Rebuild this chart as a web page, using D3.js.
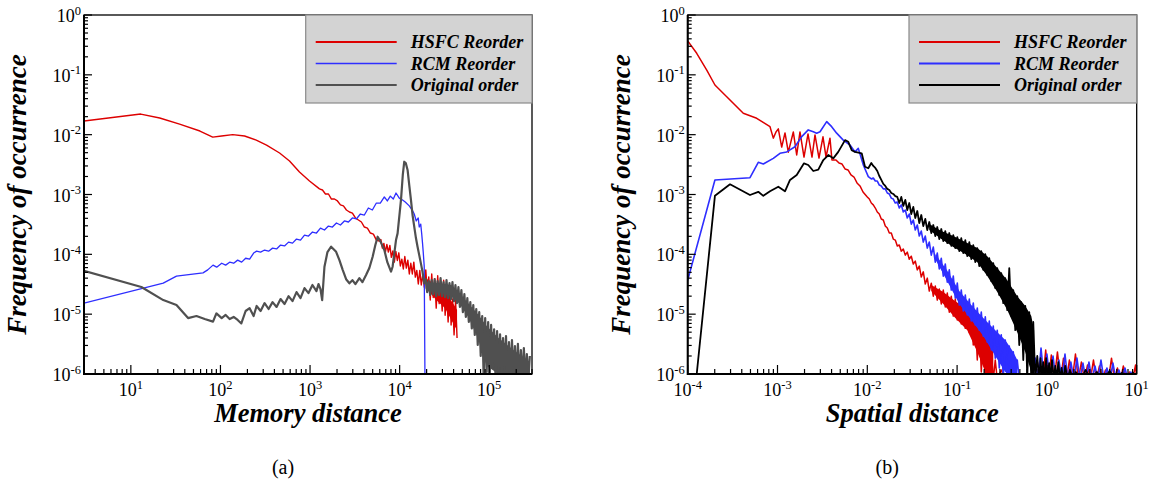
<!DOCTYPE html>
<html>
<head>
<meta charset="utf-8">
<script src="https://cdn.jsdelivr.net/npm/d3@7"></script>
<style>
  html, body { margin: 0; padding: 0; background: #fff; }
  svg { display: block; }
  text { font-family: "Liberation Serif", "Times New Roman", serif; fill: #000; }
</style>
</head>
<body>
<svg id="chart" width="1153" height="482"></svg>
<script>
// ---------- data: (a) memory distance ----------
const memHsfc = [
  [3,1.69e-2],[12.9,2.21e-2],[21,1.9e-2],[35,1.5e-2],[59,1.15e-2],[82,9.1e-3],[103,9.5e-3],[137,1.0e-2],[186,9.5e-3],[251,8.1e-3],[327,6.7e-3],[457,4.94e-3],[590,3.63e-3],[762,2.38e-3],[986,1.68e-3],
  [1274,1.24e-3],[1376,1.19e-3],[1486,1.02e-3],[1605,1.02e-3],[1733,8.4e-4],[1872,8.4e-4],[2022,7.8e-4],[2184,6.7e-4],[2358,6.45e-4],[2547,5.5e-4],[2751,5.1e-4],[2971,4.9e-4],[3209,4.05e-4],[3465,3.75e-4],[3743,3.47e-4],[4042,2.86e-4],[4366,2.75e-4],[4715,2.27e-4],[5092,2.18e-4],[5500,1.73e-4],
  [5940,1.66e-4],[6173,1.77e-4],[6415,1.27e-4],[6667,1.52e-4],[6928,1.09e-4],[7200,1.46e-4],[7482,1.09e-4],[7776,1.41e-4],[8081,8.9e-5],[8398,1.14e-4],[8727,7.4e-5],[9069,1.12e-4],[9425,7.9e-5],[9795,1.06e-4],[10180,6.4e-5],[10580,8.3e-5],[10990,5.7e-5],[11420,9.2e-5],[11870,5.9e-5],[12340,8.0e-5],[12820,4.7e-5],[13320,7.1e-5],[13850,4.7e-5],[14390,7.4e-5],[14960,4.17e-5],[15540,5.4e-5],[16150,3.19e-5],[16790,5.4e-5],[17440,3.07e-5],[18130,4.6e-5],[18840,2.84e-5],
  [19570,5.5e-5],[20340,2.4e-5],[21130,4.2e-5],[21960,1.72e-5],[22810,4.7e-5],[23700,1.9e-5],[24630,3.9e-5],[25590,1.26e-5],[26590,4.4e-5],[27620,1.5e-5],[28700,3.07e-5],[29820,1.13e-5],[30980,3.7e-5],[32190,9.6e-6],[33450,2.3e-5],[34750,7.4e-6],[36110,2.9e-5],[37520,6.6e-6],[38980,1.8e-5],[40500,4.5e-6],[42080,1.7e-5],[43720,4.0e-6]
];
// dense part of the HSFC curve: [distance, lower, upper]
const memHsfcBand = [
  [19570,2.73e-5,4.0e-5],[25590,1.72e-5,3.07e-5],[32190,1.26e-5,2.34e-5],[40500,6.6e-6,1.42e-5],[43720,5.4e-6,1.17e-5]
];
const memRcm = [
  [3,1.53e-5],[23,3.3e-5],[32.3,4.33e-5],[63.9,4.9e-5],[72.1,5.5e-5],[82.6,6.6e-5],[90.8,6.1e-5],[103.2,7.1e-5],[114.3,6.6e-5],[126.7,7.4e-5],[140.4,7.1e-5],[155.6,8.0e-5],[172.4,7.4e-5],[191,8.6e-5],[211.7,8.3e-5],[234.6,1.05e-4],[253.3,1.13e-4],[280.7,1.09e-4],[311,1.18e-4],[344.6,1.13e-4],[381.7,1.27e-4],[423,1.23e-4],[468.8,1.43e-4],[519.3,1.38e-4],[575.4,1.6e-4],[637.5,1.54e-4],[706.3,1.8e-4],[782.5,1.73e-4],[867,2.1e-4],[960.7,2.02e-4],[1064,2.36e-4],[1179,2.27e-4],[1307,2.75e-4],[1448,2.55e-4],[1604,2.97e-4],[1777,2.86e-4],[1970,3.34e-4],[2183,3.09e-4],[2418,3.61e-4],[2679,3.47e-4],[2969,4.05e-4],[3289,3.9e-4],[3644,4.72e-4],[4037,4.54e-4],[4474,5.94e-4],[4959,5.5e-4],[5495,7.2e-4],[6085,7.2e-4],[6745,9.1e-4],[7285,7.8e-4],[7867,9.4e-4],[8494,8.4e-4],[9104,1.06e-3],[9908,8.7e-4],[10780,8.1e-4],[11550,7.5e-4],[12800,6.45e-4],[13820,5.5e-4],[14550,4.72e-4],[15320,3.61e-4],[16130,4.05e-4],[16540,2.86e-4],[17190,3.2e-4],[17640,2.18e-4],[18000,1.54e-4],[18330,1.09e-4],[18800,6.35e-5],[19150,1e-6]
];
const memOrig = [
  [3,5.3e-5],[13.1,2.85e-5],[23,1.72e-5],[32.3,1.42e-5],[43.5,8.6e-6],[54,9.3e-6],[66.7,8.3e-6],[82.6,7.5e-6],[90.1,1.03e-5],[103.2,8.6e-6],[114.3,9.7e-6],[126.7,8.3e-6],[140.4,9.0e-6],[155.6,8.0e-6],[171,7.0e-6],[191,1.13e-5],[211.7,1.26e-5],[234.6,9.3e-6],[253.3,1.37e-5],[280.7,1.13e-5],[311,1.53e-5],[344.6,1.22e-5],[381.7,1.59e-5],[423,1.32e-5],[468.8,1.79e-5],[519.3,1.48e-5],[575.4,2.0e-5],[637.5,1.65e-5],[706.3,2.34e-5],[782.5,1.86e-5],[867,2.73e-5],[960.7,2.25e-5],[1064,3.07e-5],[1179,2.43e-5],[1242,3.19e-5],[1307,2.63e-5],[1365,1.72e-5],
  [1448,6.2e-5],[1564,1.09e-4],[1719,1.34e-4],[1954,1.1e-4],[2127,8.0e-5],[2314,5.5e-5],[2526,3.84e-5],[2749,3.28e-5],[2969,3.7e-5],[3206,3.19e-5],[3552,4.0e-5],[3837,3.43e-5],[4218,4.5e-5],[4590,5.9e-5],[4995,9.1e-5],[5355,1.43e-4],[5680,1.97e-4],[6085,1.66e-4],[6745,1.18e-4],[7285,7.4e-5],[8010,5.15e-5],[8343,6.2e-5],[9104,1.73e-4],[9484,2.24e-4],[10350,8.1e-4],[10840,2.12e-3],[11260,3.53e-3],[11700,3.36e-3],[12260,2.57e-3],[12800,1.44e-3],[13370,8.1e-4],[13930,4.54e-4],[14550,2.9e-4],[15200,1.87e-4],[15840,1.34e-4],[16540,9.7e-5],[17280,7.0e-5],[18000,5.1e-5],[18800,3.28e-5],
  [19530,3.84e-5],[20290,2.34e-5],[21080,3.56e-5],[21900,2.09e-5],[22750,3.7e-5],[23640,2.17e-5],[24560,3.84e-5],[25520,2.0e-5],[26510,3.56e-5],[27540,2.09e-5],[28620,4.0e-5],[29730,2.0e-5],[30890,3.43e-5],[32090,1.93e-5],[33340,3.7e-5],[34640,1.86e-5],[35990,3.3e-5],[37390,1.79e-5],[38850,3.43e-5],[40360,1.65e-5],[41930,3.07e-5],[43570,1.53e-5],[45270,2.84e-5],[47030,1.32e-5],[48860,2.53e-5],[50770,1.08e-5],[52750,2.17e-5],[54800,9.0e-6],[56940,1.86e-5],[59160,7.4e-6],[61460,1.59e-5],[63860,5.8e-6],[66350,1.42e-5],[68930,4.5e-6],[71620,1.22e-5],[74410,3.05e-6],[77310,1.08e-5],[80320,2.0e-6],[83450,9.3e-6],[86710,8e-7],[90090,8.6e-6],[93600,1.08e-6],[97250,7.4e-6],[101000,8e-7],[104900,6.6e-6],[109000,1.26e-6],[113300,5.6e-6],[117700,8e-7],[122300,5.2e-6],[127000,9.3e-7],[132000,4.6e-6],[137200,8e-7],[142500,4.0e-6],[148100,1.08e-6],[153800,4.3e-6],[159800,8e-7],[166100,3.4e-6],[172500,8e-7],[179300,3.7e-6],[186300,8.6e-7],[193500,2.94e-6],[201100,8e-7],[208900,3.2e-6],[217000,8e-7],[225500,2.52e-6],[234300,8e-7],[243400,2.72e-6],[252900,8e-7],[262800,2.16e-6],[273000,8e-7],[283700,2.0e-6]
];
const memOrigBand = [
  [19530,2.63e-5,3.43e-5],[27540,2.34e-5,3.3e-5],[37390,2.0e-5,3.07e-5],[47030,1.48e-5,2.17e-5],[59160,8.6e-6,1.48e-5],[74410,4.0e-6,1.01e-5],[93600,1.36e-6,6.35e-6],[127000,1.0e-6,4.0e-6],[186300,9.3e-7,2.52e-6],[283700,8.6e-7,1.58e-6]
];

// ---------- data: (b) spatial distance ----------
const spatHsfc = [
  [1.0e-4,0.37],[1.26e-4,0.229],[1.63e-4,0.12],[2.01e-4,0.0676],[2.72e-4,0.0431],[4.16e-4,0.0228],[5.87e-4,0.01876],[8.25e-4,0.01358],
  [8.98e-4,8.75e-3],[9.62e-4,1.11e-2],[1.021e-3,1.25e-2],[1.114e-3,6.2e-3],[1.212e-3,1.07e-2],[1.319e-3,5.1e-3],[1.50e-3,1.11e-2],[1.636e-3,4.57e-3],[1.78e-3,1.11e-2],[1.973e-3,4.23e-3],[2.186e-3,1.03e-2],[2.422e-3,4.23e-3],[2.616e-3,9.9e-3],[2.898e-3,4.07e-3],[3.21e-3,9.2e-3],[3.47e-3,4.23e-3],[3.84e-3,8.75e-3],[4.04e-3,3.77e-3],
  [4.48e-3,3.77e-3],[4.84e-3,3.36e-3],[5.23e-3,3.23e-3],[5.65e-3,2.67e-3],[6.10e-3,2.57e-3],[6.58e-3,2.12e-3],[7.11e-3,1.96e-3],[7.68e-3,1.56e-3],[8.29e-3,1.39e-3],[8.96e-3,1.10e-3],
  [0.01,9.1e-4],[0.01053,8.4e-4],[0.01108,7.2e-4],[0.01166,6.7e-4],[0.01228,5.94e-4],[0.01292,5.1e-4],[0.0136,4.72e-4],[0.01432,3.9e-4],[0.01507,3.75e-4],[0.01586,2.97e-4],[0.0167,2.75e-4],[0.01758,2.27e-4],[0.0185,2.27e-4],[0.01947,1.8e-4],[0.0205,1.73e-4],[0.02158,1.38e-4],[0.02271,1.43e-4],[0.02391,1.13e-4],[0.02516,1.23e-4],[0.02649,9.7e-5],[0.02788,1.09e-4],[0.02935,8.3e-5],[0.03089,9.3e-5],[0.03252,6.9e-5],[0.03423,7.7e-5],[0.03603,5.5e-5],[0.03793,6.35e-5],[0.03992,4.17e-5],[0.04202,5.1e-5],[0.04423,3.19e-5],[0.04656,4.0e-5],[0.04901,2.43e-5],[0.05159,3.3e-5],[0.05431,2.0e-5],[0.05716,2.95e-5],[0.06017,1.72e-5],[0.06334,2.63e-5],[0.06667,1.48e-5],[0.07018,2.53e-5],[0.07387,1.32e-5],[0.07776,2.25e-5],[0.08185,1.08e-5],[0.08616,2.0e-5],[0.09069,9.3e-6],[0.09546,1.79e-5],[0.1005,8.0e-6],[0.1058,1.65e-5],[0.1113,6.85e-6],[0.1172,1.53e-5],[0.1234,5.8e-6],[0.1298,1.32e-5],[0.1367,4.9e-6],[0.1439,1.08e-5],[0.1514,3.05e-6],[0.1594,8.6e-6],[0.1678,1.71e-6],[0.1766,7.1e-6],[0.1859,1.08e-6],[0.1957,5.0e-6],[0.206,8e-7],[0.2168,3.7e-6],[0.2282,8e-7],[0.2402,2.52e-6],[0.2528,8e-7],[0.2661,1.71e-6],[0.2801,8e-7],[0.3104,1.17e-6],[0.3439,8e-7],
  [0.77,8e-7],[0.83,1.58e-6],[0.9,8e-7],[0.97,2.52e-6],[1.04,8e-7],[1.12,2.08e-6],[1.21,8e-7],[1.31,2.34e-6],[1.42,8e-7],[1.53,1.84e-6],[1.65,8e-7],[1.78,1.71e-6],[1.92,8e-7],[2.08,2.16e-6],[2.24,8e-7],[2.42,1.58e-6],[2.62,8e-7],[2.83,1.41e-6],[3.05,8e-7],[3.3,1.71e-6],[3.56,8e-7],[3.85,1.36e-6],[4.16,8e-7],[4.49,1.17e-6],[4.85,8e-7],[5.24,1.84e-6],[5.66,8e-7],[6.1,1.26e-6],[6.6,8e-7],[7.1,1.36e-6],[7.7,8e-7],[8.3,1.08e-6],[9.0,8e-7],[9.7,1.41e-6],[10,8e-7]
];
const spatHsfcBand = [
  [0.05159,2.43e-5,3.07e-5],[0.07018,1.48e-5,2.34e-5],[0.09546,8.6e-6,1.65e-5],[0.1298,5.4e-6,1.22e-5],[0.1678,2.34e-6,8.0e-6],[0.206,1.08e-6,4.3e-6],[0.2528,8e-7,2.34e-6]
];
const spatRcm = [
  [1.0e-4,3.7e-5],[2.01e-4,1.75e-3],[4.94e-4,1.91e-3],[6.11e-4,3.45e-3],[6.95e-4,3.23e-3],[8.98e-4,4.02e-3],[1.066e-3,4.88e-3],[1.266e-3,5.15e-3],[1.566e-3,6.28e-3],[1.86e-3,9.28e-3],[2.2e-3,1.2e-2],[2.504e-3,1.12e-2],[2.73e-3,1.06e-2],[2.975e-3,1.12e-2],[3.53e-3,1.65e-2],[4.01e-3,1.36e-2],[4.56e-3,1.06e-2],[5.40e-3,8.1e-3],[6.42e-3,6.7e-3],[7.29e-3,5.15e-3],[7.94e-3,5.9e-3],[9.03e-3,3.11e-3],[1.026e-2,1.99e-3],
  [0.01108,1.82e-3],[0.01166,1.89e-3],[0.01228,1.68e-3],[0.01292,1.68e-3],[0.0136,1.44e-3],[0.01432,1.39e-3],[0.01507,1.24e-3],[0.01586,1.24e-3],[0.0167,1.06e-3],[0.01758,1.02e-3],[0.0185,8.7e-4],[0.01947,8.4e-4],[0.0205,7.2e-4],[0.02158,7.5e-4],[0.02271,5.94e-4],[0.02391,6.7e-4],[0.02516,5.1e-4],[0.02649,5.5e-4],[0.02788,4.05e-4],[0.02935,4.72e-4],[0.03089,3.2e-4],[0.03252,3.75e-4],[0.03423,2.55e-4],[0.03603,3.09e-4],[0.03793,2.02e-4],[0.03992,2.45e-4],[0.04202,1.6e-4],[0.04423,2.02e-4],[0.04656,1.27e-4],[0.04901,1.6e-4],[0.05159,9.7e-5],[0.05431,1.32e-4],[0.05716,7.4e-5],[0.06017,1.05e-4],[0.06334,5.7e-5],[0.06667,8.6e-5],[0.07018,4.33e-5],[0.07387,6.9e-5],[0.07776,3.43e-5],[0.08185,5.5e-5],[0.08616,2.53e-5],[0.09069,4.33e-5],[0.09546,1.86e-5],[0.1005,3.3e-5],[0.1058,1.42e-5],[0.1113,2.53e-5],[0.1172,1.13e-5],[0.1234,2.09e-5],[0.1298,9.7e-6],[0.1367,1.79e-5],[0.1439,7.7e-6],[0.1514,1.53e-5],[0.1594,6.6e-6],[0.1678,1.26e-5],[0.1766,5.4e-6],[0.1859,1.08e-5],[0.1957,4.3e-6],[0.206,9.0e-6],[0.2168,3.4e-6],[0.2282,7.7e-6],[0.2402,2.52e-6],[0.2528,6.35e-6],[0.2661,1.84e-6],[0.2801,5.4e-6],[0.2949,1.26e-6],[0.3104,4.5e-6],[0.3267,8.6e-7],[0.3439,3.7e-6],[0.362,8e-7],[0.381,2.94e-6],[0.4011,8e-7],[0.4222,2.34e-6],[0.4444,8e-7],[0.4678,1.71e-6],[0.4924,8e-7],
  [0.7,9.3e-7],[0.74,1.84e-6],[0.8,8e-7],[0.86,2.72e-6],[0.93,8e-7],[1.0,2.16e-6],[1.08,8e-7],[1.17,2.0e-6],[1.26,8e-7],[1.36,1.71e-6],[1.47,8e-7],[1.59,2.16e-6],[1.71,8e-7],[1.85,1.58e-6],[2.0,8e-7],[2.16,1.84e-6],[2.33,8e-7],[2.52,1.52e-6],[2.72,8e-7],[2.94,1.58e-6],[3.17,8e-7],[3.43,1.36e-6],[3.7,8e-7],[4.0,1.71e-6],[4.32,8e-7],[4.66,1.26e-6],[5.04,8e-7],[5.44,1.52e-6],[5.87,8e-7],[6.34,1.17e-6],[6.85,8e-7],[7.4,1.26e-6],[8.0,8e-7],[8.6,1.08e-6],[9.3,8e-7],[10,1.0e-6]
];
const spatRcmBand = [
  [0.05716,8.3e-5,1.01e-4],[0.07776,3.56e-5,5.3e-5],[0.1058,1.48e-5,2.43e-5],[0.1439,8.0e-6,1.42e-5],[0.1957,4.3e-6,8.6e-6],[0.2661,2.0e-6,5.4e-6],[0.3439,1.08e-6,3.7e-6],[0.4222,8.6e-7,2.34e-6],[0.4678,8e-7,1.71e-6]
];
const spatOrig = [
  [1.26e-4,1e-6],[2.01e-4,9.5e-4],[2.96e-4,1.48e-3],[4.94e-4,9.8e-4],[6.11e-4,1.11e-3],[6.95e-4,9.5e-4],[8.25e-4,1.13e-3],[1.021e-3,1.35e-3],[1.212e-3,1.13e-3],[1.378e-3,1.75e-3],[1.636e-3,2.12e-3],[1.973e-3,3.32e-3],[2.2e-3,3.11e-3],[2.504e-3,2.47e-3],[2.846e-3,2.6e-3],[3.236e-3,3.77e-3],[3.68e-3,4.57e-3],[4.18e-3,4.02e-3],[4.75e-3,5.15e-3],[5.65e-3,8.1e-3],[6.14e-3,7.6e-3],[6.70e-3,5.5e-3],[7.29e-3,5.15e-3],[8.66e-3,4.88e-3],[9.43e-3,2.91e-3],[1.026e-2,2.74e-3],
  [0.01108,3.36e-3],[0.01166,3.0e-3],[0.01228,2.78e-3],[0.01292,2.47e-3],[0.0136,2.04e-3],[0.01432,1.75e-3],[0.01507,1.5e-3],[0.01586,1.39e-3],[0.0167,1.24e-3],[0.01758,1.19e-3],[0.0185,1.06e-3],[0.01947,1.02e-3],[0.0205,9.4e-4],[0.02158,9.1e-4],[0.02271,7.2e-4],[0.02391,9.1e-4],[0.02516,6.45e-4],[0.02649,8.1e-4],[0.02788,5.5e-4],[0.02935,7.2e-4],[0.03089,4.72e-4],[0.03252,6.2e-4],[0.03423,4.05e-4],[0.03603,5.3e-4],[0.03793,3.34e-4],[0.03992,4.54e-4],[0.04202,2.97e-4],[0.04423,3.9e-4],[0.04656,2.55e-4],[0.04901,3.47e-4],[0.05159,2.27e-4],[0.05431,3.09e-4],[0.05716,2.02e-4],[0.06017,2.86e-4],[0.06334,1.8e-4],[0.06667,2.65e-4],[0.07018,1.66e-4],[0.07387,2.45e-4],[0.07776,1.54e-4],[0.08185,2.27e-4],[0.08616,1.38e-4],[0.09069,2.1e-4],[0.09546,1.27e-4],[0.1005,1.94e-4],[0.1058,1.13e-4],[0.1113,1.87e-4],[0.1172,1.05e-4],[0.1234,1.73e-4],[0.1298,9.3e-5],[0.1367,1.6e-4],[0.1439,8.3e-5],[0.1514,1.43e-4],[0.1594,7.4e-5],[0.1678,1.27e-4],[0.1766,6.35e-5],[0.1859,1.13e-4],[0.1957,5.5e-5],[0.206,1.01e-4],[0.2168,4.5e-5],[0.2282,8.6e-5],[0.2402,3.56e-5],[0.2528,7.1e-5],[0.2661,2.73e-5],[0.2801,5.9e-5],[0.2949,2.09e-5],[0.3104,4.86e-5],[0.3267,1.53e-5],[0.3439,4.0e-5],[0.362,1.17e-5],[0.381,5.9e-5],[0.4011,9.3e-6],[0.4222,2.53e-5],[0.4444,5.4e-6],[0.4678,2.0e-5],[0.4924,3.05e-6],[0.5183,1.59e-5],[0.5456,1.71e-6],[0.5743,1.37e-5],[0.6045,8.6e-7],[0.6363,1.08e-5],[0.6698,8e-7],[0.705,7.4e-6],[0.7421,8e-7],[0.7812,2.0e-6],
  [0.82,8e-7],[0.85,1.84e-6],[0.88,8e-7],[0.91,1.58e-6],[0.95,8e-7],[0.98,1.84e-6],[1.02,8e-7],[1.06,1.52e-6],[1.1,8e-7],[1.14,1.71e-6],[1.19,8e-7],[1.24,1.36e-6],[1.29,8e-7],[1.34,1.58e-6],[1.4,8e-7],[1.46,1.26e-6],[1.52,8e-7],[1.6,1.36e-6],[1.7,8e-7],[1.8,1.17e-6],[1.95,8e-7],[2.1,1.08e-6],[2.4,8e-7],[2.7,1.17e-6],[3.1,8e-7],[3.6,1.08e-6],[4.2,8e-7],[5.0,1.12e-6],[5.8,8e-7],[6.8,1.04e-6],[8,8e-7],[9.2,1.08e-6]
];
const spatOrigBand = [
  [0.04901,2.55e-4,3.2e-4],[0.06667,1.8e-4,2.45e-4],[0.09069,1.32e-4,2.02e-4],[0.1234,1.01e-4,1.6e-4],[0.1678,7.4e-5,1.27e-4],[0.2168,4.33e-5,9.3e-5],[0.2801,2.34e-5,5.9e-5],[0.362,1.17e-5,3.7e-5],[0.4678,5.0e-6,2.0e-5],[0.5743,2.34e-6,1.37e-5],[0.6698,1.08e-6,9.3e-6],[0.72,8e-7,5.4e-6]
];

// ---------- axes, labels ----------
const freqDomain = [1e-6, 1];
const freqTickExp = [0, -1, -2, -3, -4, -5, -6];
const memDomain = [3, 3e5];
const memTickExp = [1, 2, 3, 4, 5];
const spatDomain = [1e-4, 10];
const spatTickExp = [-4, -3, -2, -1, 0, 1];
const seriesNames = ["HSFC Reorder", "RCM Reorder", "Original order"];
const yTitle = "Frequency of occurrence";

const panels = [
  { id: "a", left: 84, right: 532, xDomain: memDomain, xTickExp: memTickExp,
    xTitle: "Memory distance", caption: "(a)", legendLeft: 305.7,
    series: [memHsfc, memRcm, memOrig], bands: [memHsfcBand, null, memOrigBand],
    colors: ["#dd0000", "#2e2eff", "#505050"], widths: [1.4, 1.3, 2.2] },
  { id: "b", left: 687.7, right: 1136.7, xDomain: spatDomain, xTickExp: spatTickExp,
    xTitle: "Spatial distance", caption: "(b)", legendLeft: 909,
    series: [spatHsfc, spatRcm, spatOrig], bands: [spatHsfcBand, spatRcmBand, spatOrigBand],
    colors: ["#dd0000", "#2e2eff", "#000000"], widths: [1.5, 1.6, 1.8] }
];

const plotTop = 15, plotBottom = 374;
const svg = d3.select("#chart");
const isMajor = v => Math.abs(Math.log10(v) - Math.round(Math.log10(v))) < 1e-9;
const powLabel = (sel, exp) => {
  sel.append("tspan").text("10");
  sel.append("tspan").attr("font-size", 12.5).attr("dy", -7.5).text(String(exp));
};

panels.forEach(p => {
  const x = d3.scaleLog().domain(p.xDomain).range([p.left, p.right]);
  const y = d3.scaleLog().domain(freqDomain).range([plotBottom, plotTop]);
  const g = svg.append("g");

  g.append("clipPath").attr("id", "clip-" + p.id)
    .append("rect").attr("x", p.left).attr("y", plotTop)
    .attr("width", p.right - p.left).attr("height", plotBottom - plotTop);

  // data: dense-band core (where present) then the curve itself
  const line = d3.line().x(d => x(d[0])).y(d => y(d[1]));
  const area = d3.area().x(d => x(d[0])).y0(d => y(d[1])).y1(d => y(d[2]));
  const plot = g.append("g").attr("clip-path", `url(#clip-${p.id})`);
  p.series.forEach((s, i) => {
    if (p.bands[i]) {
      plot.append("path").datum(p.bands[i]).attr("d", area)
        .attr("fill", p.colors[i]).attr("stroke", "none");
    }
    plot.append("path").datum(s).attr("d", line)
      .attr("fill", "none").attr("stroke", p.colors[i])
      .attr("stroke-width", p.widths[i]).attr("stroke-linejoin", "round");
  });

  // ticks (inward)
  const yt = y.ticks().filter(v => v >= freqDomain[0] && v <= freqDomain[1]);
  g.selectAll(".yt").data(yt).join("line")
    .attr("x1", p.left).attr("x2", v => p.left + (isMajor(v) ? 8 : 4))
    .attr("y1", v => y(v)).attr("y2", v => y(v))
    .attr("stroke", "#000").attr("stroke-width", 1.2);
  const xt = x.ticks().filter(v => v >= p.xDomain[0] && v <= p.xDomain[1]);
  g.selectAll(".xt").data(xt).join("line")
    .attr("x1", v => x(v)).attr("x2", v => x(v))
    .attr("y1", plotBottom).attr("y2", v => plotBottom - (isMajor(v) ? 9 : 5))
    .attr("stroke", "#000").attr("stroke-width", 1.2);

  // frame
  g.append("rect").attr("x", p.left).attr("y", plotTop)
    .attr("width", p.right - p.left).attr("height", plotBottom - plotTop)
    .attr("fill", "none").attr("stroke", "#000").attr("stroke-width", 1.3);
  g.append("path").attr("d", `M${p.left},${plotTop}V${plotBottom}H${p.right}`)
    .attr("fill", "none").attr("stroke", "#000").attr("stroke-width", 2);

  // tick labels
  freqTickExp.forEach(e => {
    const t = g.append("text").attr("x", p.left - 3).attr("y", y(Math.pow(10, e)) + 7)
      .attr("text-anchor", "end").attr("font-size", 18);
    powLabel(t, e);
  });
  p.xTickExp.forEach(e => {
    const t = g.append("text").attr("x", x(Math.pow(10, e))).attr("y", plotBottom + 22)
      .attr("text-anchor", "middle").attr("font-size", 18);
    powLabel(t, e);
  });

  // axis titles
  g.append("text").attr("x", (p.left + p.right) / 2).attr("y", plotBottom + 48)
    .attr("text-anchor", "middle").attr("font-size", 26.5)
    .attr("font-weight", "bold").attr("font-style", "italic").text(p.xTitle);
  g.append("text").attr("transform", `translate(${p.left - 58},${(plotTop + plotBottom) / 2}) rotate(-90)`)
    .attr("text-anchor", "middle").attr("font-size", 27)
    .attr("font-weight", "bold").attr("font-style", "italic").text(yTitle);

  // caption
  g.append("text").attr("x", (p.left + p.right) / 2 - 25).attr("y", 474)
    .attr("text-anchor", "middle").attr("font-size", 20).text(p.caption);

  // legend
  const lg = g.append("g");
  lg.append("rect").attr("x", p.legendLeft).attr("y", plotTop)
    .attr("width", p.right - p.legendLeft).attr("height", 88)
    .attr("fill", "#d3d3d3").attr("stroke", "#8a8a8a").attr("stroke-width", 1.2);
  seriesNames.forEach((name, i) => {
    const ry = 42 + i * 21.5;
    lg.append("line").attr("x1", p.legendLeft + 10).attr("x2", p.legendLeft + 91)
      .attr("y1", ry).attr("y2", ry)
      .attr("stroke", p.colors[i]).attr("stroke-width", Math.min(p.widths[i], 1.6) + 0.4);
    lg.append("text").attr("x", p.legendLeft + 105).attr("y", ry + 6)
      .attr("font-size", 18).attr("font-weight", "bold").attr("font-style", "italic")
      .text(name);
  });
});
</script>
</body>
</html>
